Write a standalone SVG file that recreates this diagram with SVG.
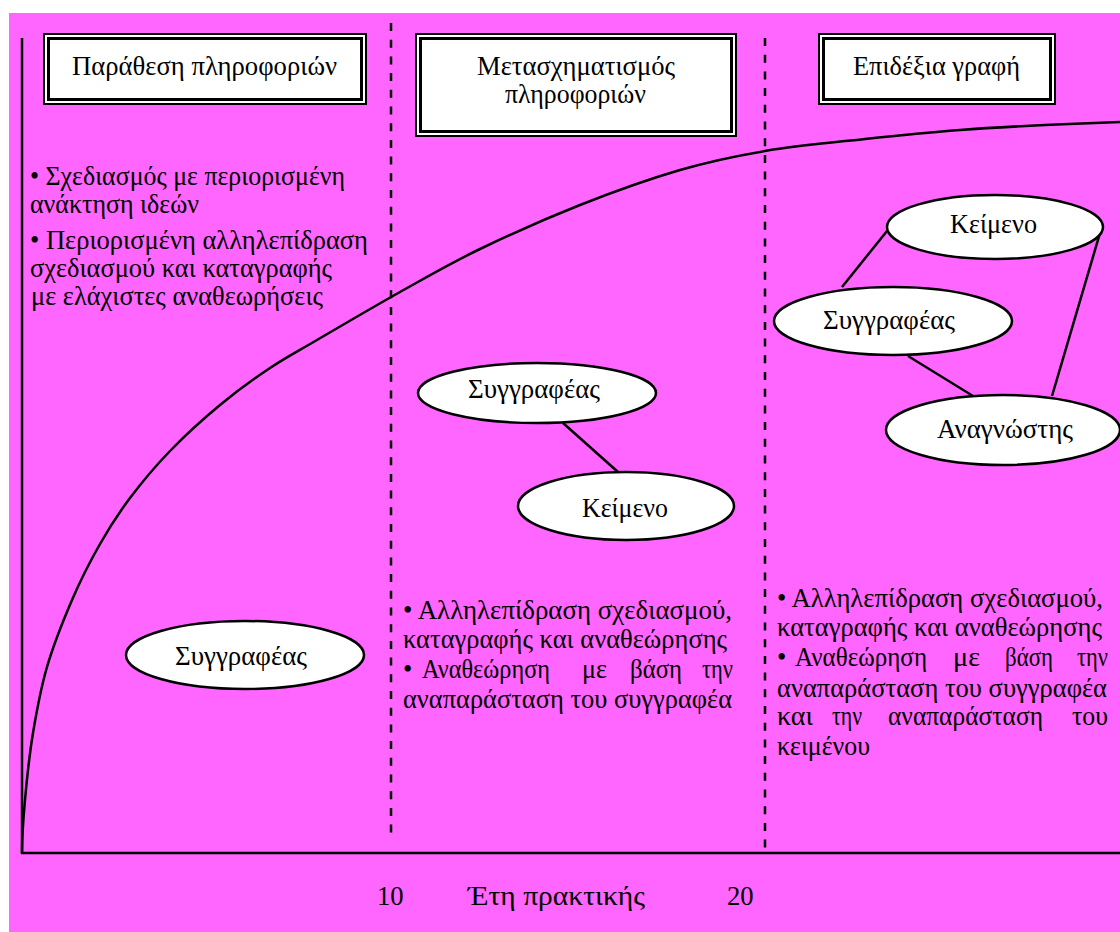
<svg xmlns="http://www.w3.org/2000/svg" width="1120" height="932" viewBox="0 0 1120 932">
  <style>
    text { font-family: "Liberation Serif", "DejaVu Serif", serif; font-size: 26.67px; fill: #000; }
    .node { fill: #fff; stroke: #000; stroke-width: 2.5; }
    .frame-out { fill: #fff; stroke: #000; stroke-width: 2; }
    .frame-in { fill: none; stroke: #000; stroke-width: 3; }
    .axis { stroke: #000; stroke-width: 2.5; fill: none; }
    .divider { stroke: #000; stroke-width: 2.5; stroke-dasharray: 8 8.7; fill: none; }
    .link { stroke: #000; stroke-width: 2.5; fill: none; }
  </style>

  <!-- page background -->
  <rect x="0" y="0" width="1120" height="932" fill="#fff"/>
  <rect x="9" y="13" width="1111" height="919" fill="#ff66ff"/>

  <!-- axes -->
  <g id="axes">
    <line class="axis" x1="22" y1="38" x2="22" y2="854"/>
    <line class="axis" x1="21" y1="853" x2="1120" y2="853"/>
  </g>

  <!-- stage dividers -->
  <g id="dividers">
    <line class="divider" x1="391" y1="23" x2="391" y2="837"/>
    <line class="divider" x1="765" y1="38" x2="765" y2="853"/>
  </g>

  <!-- growth curve -->
  <g id="curve">
    <path class="axis" d="M22,853 C22,840 23.2,820 25,800 C26.8,780 29.3,755.2 33,733 C36.7,710.8 40.5,689.2 47,667 C53.5,644.8 63.2,620.5 72,600 C80.8,579.5 90.3,561 100,544 C109.7,527 118.3,513.5 130,498 C141.7,482.5 155,466.5 170,451 C185,435.5 203.3,418.8 220,405 C236.7,391.2 253.8,378.8 270,368 C286.2,357.2 295.3,352.7 317,340 C338.7,327.3 372.8,307.2 400,292 C427.2,276.8 450,263.5 480,249 C510,234.5 546.7,218.2 580,205 C613.3,191.8 649.2,179 680,170 C710.8,161 734.2,156.2 765,151 C795.8,145.8 832.5,142.5 865,139 C897.5,135.5 930,132.3 960,130 C990,127.7 1018.3,126.3 1045,125 C1071.7,123.7 1107.5,122.5 1120,122"/>
  </g>

  <!-- stage titles -->
  <g id="stage-1">
    <rect class="frame-out" x="44" y="34" width="322" height="70"/>
    <rect class="frame-in" x="48.5" y="38.5" width="313" height="61"/>
    <text x="72" y="75" textLength="265" lengthAdjust="spacingAndGlyphs">Παράθεση πληροφοριών</text>
  </g>
  <g id="stage-2">
    <rect class="frame-out" x="416" y="34" width="320" height="102"/>
    <rect class="frame-in" x="420.5" y="38.5" width="311" height="93"/>
    <text x="477" y="75" textLength="198" lengthAdjust="spacingAndGlyphs">Μετασχηματισμός</text>
    <text x="505" y="103" textLength="141" lengthAdjust="spacingAndGlyphs">πληροφοριών</text>
  </g>
  <g id="stage-3">
    <rect class="frame-out" x="819" y="34" width="236" height="70"/>
    <rect class="frame-in" x="823.5" y="38.5" width="227" height="61"/>
    <text x="853" y="75" textLength="167" lengthAdjust="spacingAndGlyphs">Επιδέξια γραφή</text>
  </g>

  <!-- stage descriptions -->
  <g id="notes-1">
    <text x="30" y="185" textLength="315" lengthAdjust="spacingAndGlyphs">• Σχεδιασμός με περιορισμένη</text>
    <text x="30" y="213" textLength="169" lengthAdjust="spacingAndGlyphs">ανάκτηση ιδεών</text>
    <text x="30" y="249" textLength="338" lengthAdjust="spacingAndGlyphs">• Περιορισμένη αλληλεπίδραση</text>
    <text x="30" y="277" textLength="302" lengthAdjust="spacingAndGlyphs">σχεδιασμού και καταγραφής</text>
    <text x="31" y="305" textLength="292" lengthAdjust="spacingAndGlyphs">με ελάχιστες αναθεωρήσεις</text>
  </g>
  <g id="notes-2">
    <text x="403" y="619" textLength="329" lengthAdjust="spacingAndGlyphs">• Αλληλεπίδραση σχεδιασμού,</text>
    <text x="403" y="648" textLength="324" lengthAdjust="spacingAndGlyphs">καταγραφής και αναθεώρησης</text>
    <text y="678"><tspan x="403">•</tspan><tspan x="422" textLength="128" lengthAdjust="spacingAndGlyphs">Αναθεώρηση</tspan><tspan x="582" textLength="25" lengthAdjust="spacingAndGlyphs">με</tspan><tspan x="630" textLength="52" lengthAdjust="spacingAndGlyphs">βάση</tspan><tspan x="702" textLength="31" lengthAdjust="spacingAndGlyphs">την</tspan></text>
    <text x="403" y="708" textLength="329" lengthAdjust="spacingAndGlyphs">αναπαράσταση του συγγραφέα</text>
  </g>
  <g id="notes-3">
    <text x="777" y="607" textLength="326" lengthAdjust="spacingAndGlyphs">• Αλληλεπίδραση σχεδιασμού,</text>
    <text x="777" y="636" textLength="325" lengthAdjust="spacingAndGlyphs">καταγραφής και αναθεώρησης</text>
    <text y="666"><tspan x="777">•</tspan><tspan x="795" textLength="132" lengthAdjust="spacingAndGlyphs">Αναθεώρηση</tspan><tspan x="953" textLength="27" lengthAdjust="spacingAndGlyphs">με</tspan><tspan x="1005" textLength="48" lengthAdjust="spacingAndGlyphs">βάση</tspan><tspan x="1077" textLength="31" lengthAdjust="spacingAndGlyphs">την</tspan></text>
    <text x="777" y="697" textLength="330" lengthAdjust="spacingAndGlyphs">αναπαράσταση του συγγραφέα</text>
    <text y="725"><tspan x="777" textLength="36" lengthAdjust="spacingAndGlyphs">και</tspan><tspan x="832" textLength="30" lengthAdjust="spacingAndGlyphs">την</tspan><tspan x="888" textLength="155" lengthAdjust="spacingAndGlyphs">αναπαράσταση</tspan><tspan x="1072" textLength="36" lengthAdjust="spacingAndGlyphs">του</tspan></text>
    <text x="777" y="755" textLength="93" lengthAdjust="spacingAndGlyphs">κειμένου</text>
  </g>

  <!-- connectors -->
  <g id="connectors">
    <line class="link" x1="563" y1="423" x2="618" y2="472"/>
    <line class="link" x1="887" y1="231" x2="842" y2="287"/>
    <line class="link" x1="1100" y1="233" x2="1052" y2="396"/>
    <line class="link" x1="908" y1="356" x2="973" y2="396"/>
  </g>

  <!-- participants -->
  <g id="writer-1">
    <ellipse class="node" cx="245" cy="655" rx="119" ry="34"/>
    <text x="175" y="665" textLength="132" lengthAdjust="spacingAndGlyphs">Συγγραφέας</text>
  </g>
  <g id="writer-2">
    <ellipse class="node" cx="537" cy="393" rx="119" ry="30"/>
    <text x="468" y="398" textLength="132" lengthAdjust="spacingAndGlyphs">Συγγραφέας</text>
  </g>
  <g id="text-2">
    <ellipse class="node" cx="626" cy="506" rx="108" ry="34"/>
    <text x="582" y="517" textLength="86" lengthAdjust="spacingAndGlyphs">Κείμενο</text>
  </g>
  <g id="text-3">
    <ellipse class="node" cx="995" cy="227" rx="108" ry="32"/>
    <text x="950" y="233" textLength="87" lengthAdjust="spacingAndGlyphs">Κείμενο</text>
  </g>
  <g id="writer-3">
    <ellipse class="node" cx="893" cy="321" rx="119" ry="34"/>
    <text x="823" y="329" textLength="132" lengthAdjust="spacingAndGlyphs">Συγγραφέας</text>
  </g>
  <g id="reader-3">
    <ellipse class="node" cx="1003" cy="430" rx="117" ry="35"/>
    <text x="937" y="438" textLength="136" lengthAdjust="spacingAndGlyphs">Αναγνώστης</text>
  </g>

  <!-- horizontal axis labels -->
  <g id="axis-labels">
    <text x="377" y="905">10</text>
    <text x="468" y="905" textLength="177" lengthAdjust="spacingAndGlyphs">Έτη πρακτικής</text>
    <text x="727" y="905">20</text>
  </g>
</svg>
